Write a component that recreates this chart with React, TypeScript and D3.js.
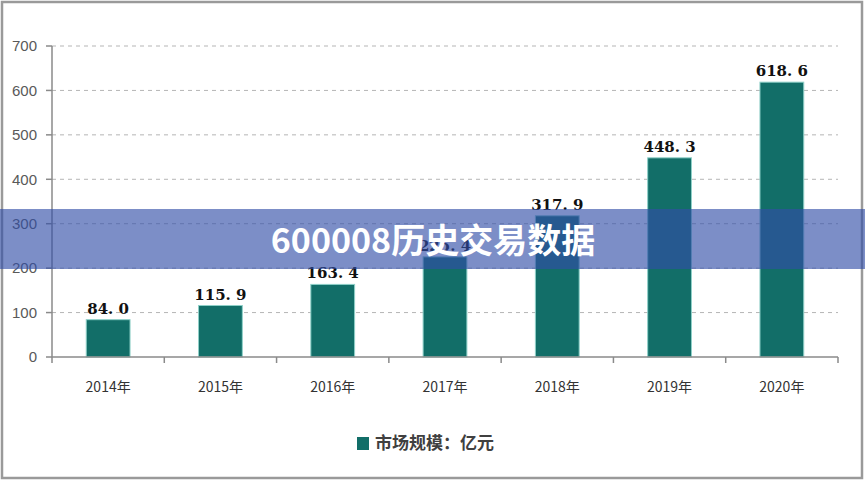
import React from 'react';
import * as d3 from 'd3';

const years = ['2014年', '2015年', '2016年', '2017年', '2018年', '2019年', '2020年'];
const marketSize = [84.0, 115.9, 163.4, 225.4, 317.9, 448.3, 618.6];
const yTicks = [0, 100, 200, 300, 400, 500, 600, 700];
const legendLabel = '市场规模：亿元';
const bannerTitle = '600008历史交易数据';

const W = 865;
const H = 481;
const left = 52;
const right = 838;
const top = 46;
const bottom = 357;

const App = () => {
  const x = d3.scaleBand().domain(years).range([left, right]).padding(0);
  const y = d3.scaleLinear().domain([0, 700]).range([bottom, top]);
  const step = x.bandwidth();
  const barW = step * 0.39;
  const bounds = d3.range(years.length + 1).map(i => left + i * step);

  return (
    <svg width={W} height={H} style={{ position: 'absolute', left: 0, top: 0, background: '#fff' }}>
      <rect x={2} y={2} width={860} height={476} fill="#fff" stroke="#9a9a9a" strokeWidth={2.5} />

      {/* grid */}
      {yTicks.filter(t => t > 0).map(t => (
        <line key={t} x1={left} x2={right} y1={y(t)} y2={y(t)} stroke="#b5b5b5" strokeDasharray="4,4" strokeWidth={1} />
      ))}

      {/* y axis */}
      <g fontFamily="'Liberation Sans', Arial, sans-serif" fontSize="15" fill="#595959" textAnchor="end">
        <line x1={left} x2={left} y1={top} y2={bottom} stroke="#8a8a8a" strokeWidth={1.5} />
        {yTicks.map(t => (
          <g key={t} transform={`translate(0, ${y(t)})`}>
            <line x1={left - 6} x2={left} stroke="#8a8a8a" strokeWidth={1.5} />
            <text x={37} dy="0.35em">{t}</text>
          </g>
        ))}
      </g>

      {/* bars */}
      {marketSize.map((v, i) => {
        const cx = (x(years[i]) as number) + step / 2;
        return (
          <g key={years[i]}>
            <rect x={cx - barW / 2} y={y(v)} width={barW} height={bottom - y(v)} fill="#126e68" stroke="#8fd0c8" strokeWidth={1} />
            <text x={cx} y={y(v) - 6} textAnchor="middle" fontFamily="'DejaVu Serif', serif" fontWeight="bold" fontSize="15" fill="#111">
              {v.toFixed(1).replace('.', '. ')}
            </text>
          </g>
        );
      })}

      {/* x axis */}
      <line x1={left} x2={right} y1={bottom} y2={bottom} stroke="#8a8a8a" strokeWidth={1.5} />
      {bounds.map((b, i) => (
        <line key={i} x1={b} x2={b} y1={bottom} y2={bottom + 6} stroke="#8a8a8a" strokeWidth={1.5} />
      ))}
      {years.map(yr => (
        <text key={yr} x={(x(yr) as number) + step / 2} y={392} textAnchor="middle" fontFamily="'Noto Sans CJK SC', sans-serif" fontSize="14" fill="#333">
          {yr}
        </text>
      ))}

      {/* legend */}
      <rect x={357} y={437} width={12} height={13} fill="#126e68" />
      <text x={375} y={449} fontFamily="'Noto Sans CJK SC', sans-serif" fontSize="17" fontWeight="bold" fill="#404040">{legendLabel}</text>

      {/* banner */}
      <rect x={0} y={209} width={W} height={60} fill="rgba(50, 78, 168, 0.64)" />
      <text x={433} y={253} textAnchor="middle" fontFamily="'Noto Sans CJK SC', sans-serif" fontWeight="bold" fontSize="34" fill="#fff">
        {bannerTitle}
      </text>
    </svg>
  );
};

export default App;
